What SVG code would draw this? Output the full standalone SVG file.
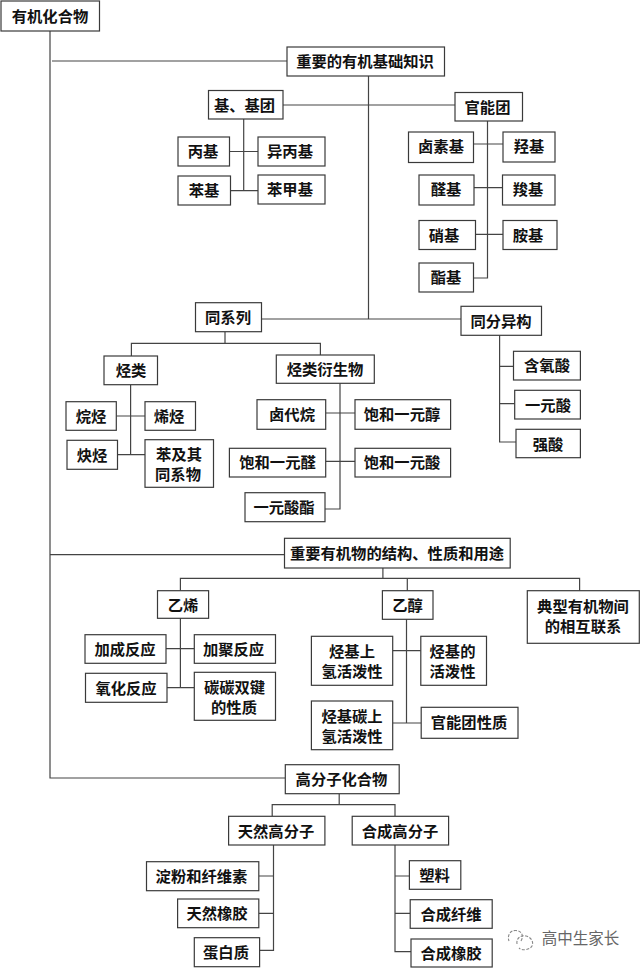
<svg xmlns="http://www.w3.org/2000/svg" width="640" height="968" viewBox="0 0 640 968">
<style>
rect{fill:#fff;stroke:#3a3a3a;stroke-width:1.2}
text{font-family:"Noto Sans CJK SC","Noto Sans",sans-serif;font-size:15.3px;font-weight:700;fill:#111;text-anchor:middle}
#connectors path{fill:none;stroke:#444;stroke-width:1.2}
#watermark text{font-weight:400;font-size:15.5px;fill:#666}
#watermark path{fill:none;stroke:#888;stroke-width:1.1;stroke-dasharray:3 1.5}
</style>
<rect x="0" y="0" width="640" height="968" style="stroke:none"/>
<g id="connectors">
<path d="M50 31V778H285M52 61H287M50 554.7H284.5"/>
<path d="M368.5 76V319M283 105H455M262 319H461"/>
<path d="M243.7 119V190.6M229.5 151.5H258M230.5 190.6H258"/>
<path d="M487.5 121V278H473.5M473.5 144H503M474 187.7H502.5M475.5 234.3H503"/>
<path d="M225 332V343.3M131.4 356V343.3H320.4V355"/>
<path d="M130.6 385V454.7M116.3 416H145M117.5 454.7H145"/>
<path d="M340 383V509H325M325.7 413H355M325.7 461.3H355"/>
<path d="M499.6 335V442H516M499.6 366.3H513.5M499.6 403.7H514.7"/>
<path d="M382.9 568V578.3M180.4 590.7V578.3H579.6V590.7M407.3 578.3V590.7"/>
<path d="M180.4 618V687.7M166 648.7H194.3M167 687.7H194.3"/>
<path d="M406.5 619V723M392.7 650.7H420.8M392.7 723H421.2"/>
<path d="M339.2 794V804.7M272.2 816.3V804.7H395V816.3"/>
<path d="M273.5 845V950.3H259.6M258.8 876H273.5M258.8 913.3H273.5"/>
<path d="M395 845V951.7H411M395 876H409.4M395 913.3H410.2"/>
</g>
<g id="n1"><rect x="1" y="1" width="98.5" height="30"/><text x="50" y="21.5">有机化合物</text></g>
<g id="n2"><rect x="287" y="47" width="157.5" height="29"/><text x="365" y="67">重要的有机基础知识</text></g>
<g id="n3"><rect x="208.5" y="90.5" width="74.5" height="28.5"/><text x="244.5" y="111">基、基团</text></g>
<g id="n4"><rect x="455" y="92.5" width="67.5" height="28.5"/><text x="487.5" y="113">官能团</text></g>
<g id="n5"><rect x="178" y="137" width="51.5" height="29"/><text x="203" y="157">丙基</text></g>
<g id="n6"><rect x="258" y="137" width="67" height="29"/><text x="290" y="157">异丙基</text></g>
<g id="n7"><rect x="178" y="176" width="52.5" height="29"/><text x="204" y="196">苯基</text></g>
<g id="n8"><rect x="258" y="175" width="67" height="29"/><text x="290" y="195">苯甲基</text></g>
<g id="n9"><rect x="408.5" y="132" width="65" height="30.5"/><text x="441" y="152">卤素基</text></g>
<g id="n10"><rect x="503" y="132" width="52" height="30"/><text x="529" y="152">羟基</text></g>
<g id="n11"><rect x="419" y="175" width="55" height="30"/><text x="446" y="195">醛基</text></g>
<g id="n12"><rect x="502.5" y="175" width="52.5" height="30"/><text x="528" y="195">羧基</text></g>
<g id="n13"><rect x="419" y="220.5" width="56.5" height="29"/><text x="444" y="241">硝基</text></g>
<g id="n14"><rect x="503" y="220.5" width="54" height="29"/><text x="528" y="241">胺基</text></g>
<g id="n15"><rect x="419" y="263" width="54.5" height="29"/><text x="446" y="283">酯基</text></g>
<g id="n16"><rect x="195.5" y="302.7" width="66" height="29"/><text x="228" y="323">同系列</text></g>
<g id="n17"><rect x="461" y="306.3" width="80.5" height="29"/><text x="501" y="327">同分异构</text></g>
<g id="n18"><rect x="104" y="356" width="53.5" height="28.7"/><text x="131" y="376">烃类</text></g>
<g id="n19"><rect x="276.3" y="355" width="98" height="28.3"/><text x="325" y="375">烃类衍生物</text></g>
<g id="n20"><rect x="66" y="401.7" width="50.3" height="28.6"/><text x="91" y="422">烷烃</text></g>
<g id="n21"><rect x="145" y="401.7" width="50.5" height="28.6"/><text x="169" y="422">烯烃</text></g>
<g id="n22"><rect x="67" y="440.3" width="50.5" height="29"/><text x="92" y="461">炔烃</text></g>
<g id="n23"><rect x="145" y="439.7" width="68.5" height="47.6"/><text x="179" y="460">苯及其</text><text x="178" y="480">同系物</text></g>
<g id="n24"><rect x="257" y="399.7" width="68.7" height="29.6"/><text x="292" y="420">卤代烷</text></g>
<g id="n25"><rect x="355" y="399.7" width="95.6" height="29.6"/><text x="402" y="420">饱和一元醇</text></g>
<g id="n26"><rect x="229.4" y="448.3" width="96.3" height="28.7"/><text x="277.5" y="468">饱和一元醛</text></g>
<g id="n27"><rect x="355" y="448.3" width="95.6" height="28.7"/><text x="402" y="468">饱和一元酸</text></g>
<g id="n28"><rect x="245" y="492.7" width="80" height="29"/><text x="284" y="513">一元酸酯</text></g>
<g id="n29"><rect x="513.5" y="351.3" width="66.9" height="28.7"/><text x="547" y="371">含氧酸</text></g>
<g id="n30"><rect x="514.7" y="390.3" width="65.7" height="28.7"/><text x="548" y="411">一元酸</text></g>
<g id="n31"><rect x="516" y="429.3" width="64.4" height="28.4"/><text x="548" y="450">强酸</text></g>
<g id="n32"><rect x="284.5" y="538.3" width="225.7" height="29.7"/><text x="397" y="559">重要有机物的结构、性质和用途</text></g>
<g id="n33"><rect x="157.5" y="590.7" width="51.1" height="27.6"/><text x="183" y="611">乙烯</text></g>
<g id="n34"><rect x="382.4" y="590.7" width="50.6" height="28.6"/><text x="407.5" y="611">乙醇</text></g>
<g id="n35"><rect x="527.3" y="590.7" width="112" height="52.6"/><text x="583" y="612">典型有机物间</text><text x="583" y="632">的相互联系</text></g>
<g id="n36"><rect x="85" y="634.7" width="81" height="28.6"/><text x="125" y="655">加成反应</text></g>
<g id="n37"><rect x="194.3" y="634.7" width="81.2" height="28.6"/><text x="233.5" y="655">加聚反应</text></g>
<g id="n38"><rect x="85.5" y="673.3" width="81.5" height="29"/><text x="126" y="694">氧化反应</text></g>
<g id="n39"><rect x="194.3" y="672.3" width="81.2" height="48"/><text x="234.5" y="693">碳碳双键</text><text x="234" y="713">的性质</text></g>
<g id="n40"><rect x="311.4" y="636.3" width="81.3" height="49"/><text x="352" y="657">烃基上</text><text x="352" y="677">氢活泼性</text></g>
<g id="n41"><rect x="420.8" y="636.3" width="65.7" height="49"/><text x="452.5" y="657">烃基的</text><text x="452.5" y="677">活泼性</text></g>
<g id="n42"><rect x="311.4" y="701" width="81.3" height="48.7"/><text x="352" y="722">烃基碳上</text><text x="352" y="742">氢活泼性</text></g>
<g id="n43"><rect x="421.2" y="707.3" width="96.8" height="31"/><text x="469" y="728">官能团性质</text></g>
<g id="n44"><rect x="285.3" y="764.7" width="113.9" height="29"/><text x="341.5" y="785">高分子化合物</text></g>
<g id="n45"><rect x="228.6" y="816.3" width="96.3" height="28.7"/><text x="276" y="837">天然高分子</text></g>
<g id="n46"><rect x="352.2" y="816.3" width="96.4" height="28.7"/><text x="400" y="837">合成高分子</text></g>
<g id="n47"><rect x="146.5" y="861.7" width="112.3" height="29"/><text x="201.5" y="882">淀粉和纤维素</text></g>
<g id="n48"><rect x="177.6" y="899" width="81.2" height="28.7"/><text x="217" y="919">天然橡胶</text></g>
<g id="n49"><rect x="194.3" y="937.7" width="65.3" height="29"/><text x="226" y="958">蛋白质</text></g>
<g id="n50"><rect x="409.4" y="860.7" width="51.4" height="28.6"/><text x="434.5" y="881">塑料</text></g>
<g id="n51"><rect x="410.2" y="899.7" width="82" height="28.6"/><text x="451" y="920">合成纤维</text></g>
<g id="n52"><rect x="411" y="939" width="81.2" height="28"/><text x="451" y="959">合成橡胶</text></g>
<g id="watermark"><path d="M521 941C524 936 522 931 516 930.5C510 930 507 936 509 941"/><path d="M517 944C516 938 521 935 526 936C531 937 534 942 532 946C530 950 522 951 519 948"/><text x="580.5" y="944">高中生家长</text></g>
</svg>
